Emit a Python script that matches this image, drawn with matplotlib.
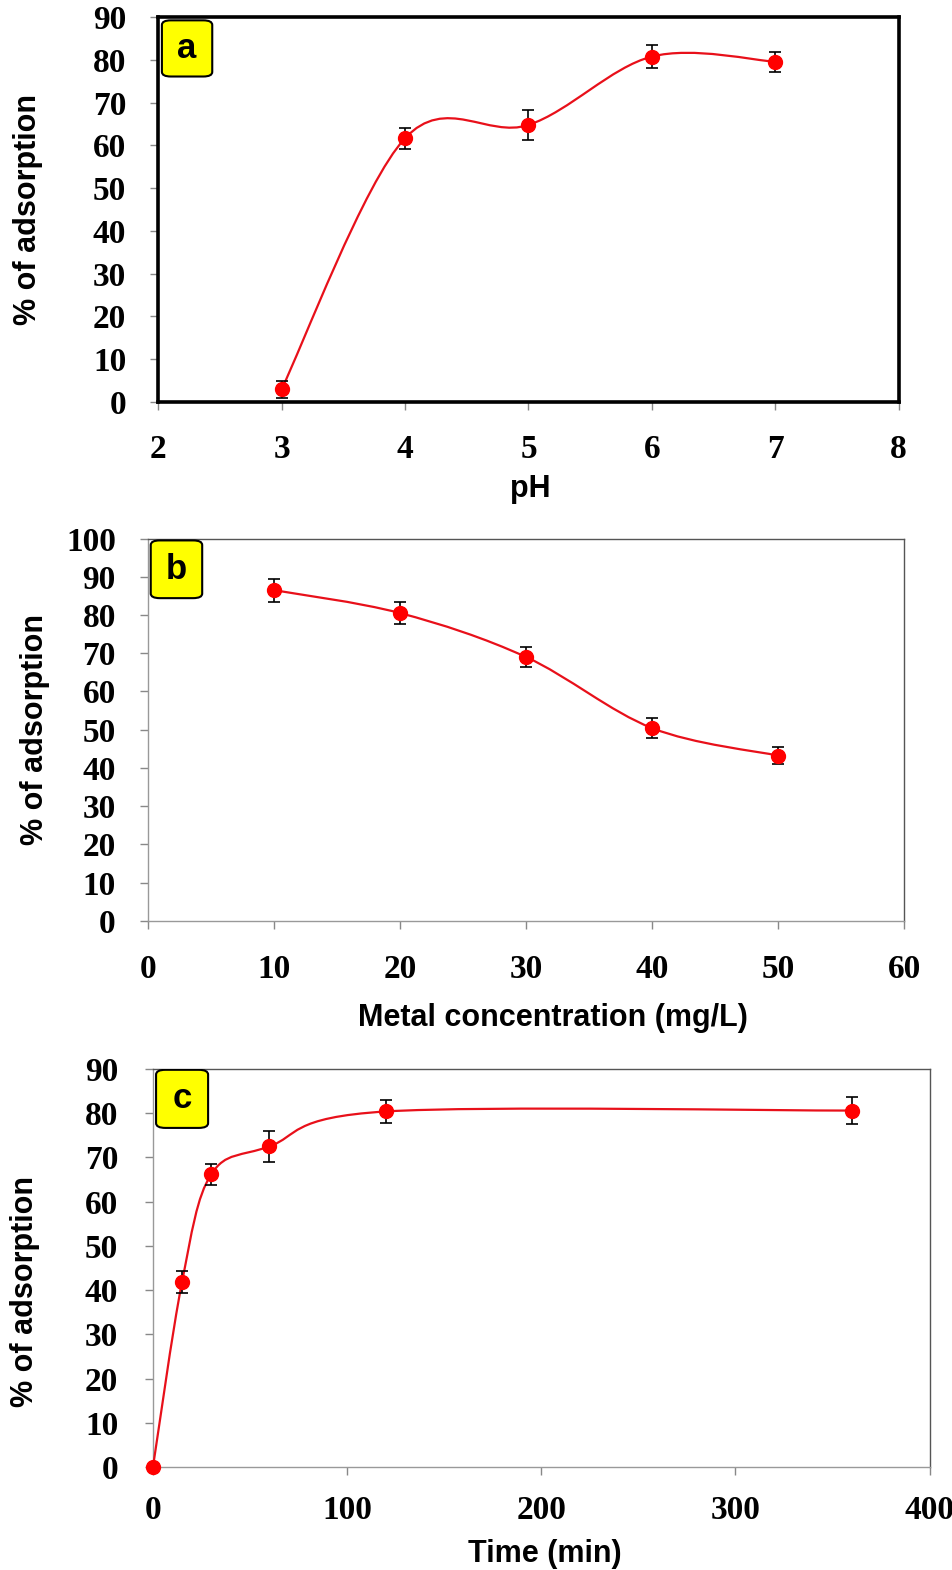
import matplotlib
matplotlib.use('Agg')
import matplotlib.pyplot as plt
from matplotlib.path import Path
from matplotlib.patches import PathPatch, FancyBboxPatch

# データ
ph = [3, 4, 5, 6, 7]
ph_ads = [3.0, 61.7, 64.8, 80.8, 79.6]
ph_err = [2.0, 2.5, 3.5, 2.7, 2.3]

conc = [10, 20, 30, 40, 50]
conc_ads = [86.5, 80.5, 69.0, 50.4, 43.2]
conc_err = [3.0, 2.8, 2.6, 2.6, 2.2]

time = [0, 15, 30, 60, 120, 360]
time_ads = [0.0, 41.9, 66.2, 72.5, 80.4, 80.6]
time_err = [0.0, 2.5, 2.4, 3.5, 2.6, 3.0]

ylabel = '% of adsorption'
xlabels = ['pH', 'Metal concentration (mg/L)', 'Time (min)']
letters = ['a', 'b', 'c']

TICK_FONT = dict(family='Liberation Serif', weight='bold', size=24)
LABEL_FONT = dict(family=['Liberation Sans', 'DejaVu Sans'], weight='bold', size=22)


def smooth_path(x, y):
    # Excel風のスムージング (Catmull-Rom -> ベジェ)
    pts = list(zip(x, y))
    n = len(pts)
    verts = [pts[0]]
    codes = [Path.MOVETO]
    for i in range(n - 1):
        p0 = pts[i - 1] if i > 0 else pts[i]
        p1 = pts[i]
        p2 = pts[i + 1]
        p3 = pts[i + 2] if i + 2 < n else pts[i + 1]
        c1 = (p1[0] + (p2[0] - p0[0]) / 6, p1[1] + (p2[1] - p0[1]) / 6)
        c2 = (p2[0] - (p3[0] - p1[0]) / 6, p2[1] - (p3[1] - p1[1]) / 6)
        verts += [c1, c2, p2]
        codes += [Path.CURVE4] * 3
    return Path(verts, codes)


fig = plt.figure(figsize=(9.53, 15.70), dpi=100)

# 各パネルの位置
ax_a = fig.add_axes([0.166, 0.744, 0.777, 0.245])
ax_b = fig.add_axes([0.155, 0.4135, 0.794, 0.2435])
ax_c = fig.add_axes([0.1605, 0.0656, 0.815, 0.2535])


def draw_panel(ax, x, y, err, xlim, xticks, ylim, yticks, letter, xlabel,
               box, ylab_pos, xlab_pos, xpad, ypad, heavy=False):
    ax.add_patch(PathPatch(smooth_path(x, y), facecolor='none',
                           edgecolor='#e8101a', lw=1.6, zorder=3))
    mask = [e > 0 for e in err]
    ax.errorbar([a for a, m in zip(x, mask) if m], [b for b, m in zip(y, mask) if m],
                yerr=[e for e, m in zip(err, mask) if m], fmt='none',
                ecolor='black', elinewidth=1.2, capsize=4, capthick=1.2, zorder=4)
    ax.plot(x, y, 'o', color='#ff0000', ms=10, zorder=5, clip_on=False)

    ax.set_xlim(*xlim)
    ax.set_ylim(*ylim)
    ax.set_xticks(xticks)
    ax.set_yticks(yticks)
    ax.tick_params(direction='out', length=6, width=1, color='#888888')
    ax.tick_params(axis='x', pad=xpad)
    ax.tick_params(axis='y', pad=ypad)
    for lab in ax.get_xticklabels() + ax.get_yticklabels():
        lab.set_fontproperties(matplotlib.font_manager.FontProperties(**TICK_FONT))

    for sp in ax.spines.values():
        if heavy:
            sp.set_linewidth(2.6)
            sp.set_color('black')
        else:
            sp.set_linewidth(1.0)
            sp.set_color('#555555')
    if not heavy:
        ax.spines['bottom'].set_color('#999999')
        ax.spines['left'].set_color('#999999')

    ax.text(ylab_pos[0], ylab_pos[1], ylabel, transform=ax.transAxes,
            rotation=90, ha='center', va='center', **LABEL_FONT)
    ax.text(xlab_pos[0], xlab_pos[1], xlabel, transform=ax.transAxes,
            ha='center', va='center', **LABEL_FONT)

    # 黄色のラベルボックス
    bx, by, bw, bh = box
    ax.add_patch(FancyBboxPatch((bx, by), bw, bh, boxstyle='round,pad=0,rounding_size=0.012',
                                transform=ax.transAxes, facecolor='#ffff00',
                                edgecolor='black', lw=1.5, zorder=6,
                                mutation_aspect=1.0))
    ax.text(bx + bw / 2, by + bh / 2, letter, transform=ax.transAxes,
            ha='center', va='center', zorder=7,
            family=['Liberation Sans Narrow', 'Liberation Sans'], weight='bold', size=25)


draw_panel(ax_a, ph, ph_ads, ph_err, (2, 8), range(2, 9), (0, 90), range(0, 91, 10),
           letters[0], xlabels[0], (0.005, 0.846, 0.068, 0.146),
           (-0.176, 0.5), (0.503, -0.226), 17, 17, heavy=True)
draw_panel(ax_b, conc, conc_ads, conc_err, (0, 60), range(0, 61, 10), (0, 100),
           range(0, 101, 10), letters[1], xlabels[1], (0.004, 0.844, 0.068, 0.151),
           (-0.149, 0.5), (0.536, -0.254), 18, 17)
draw_panel(ax_c, time, time_ads, time_err, (0, 400), range(0, 401, 100), (0, 90),
           range(0, 91, 10), letters[2], xlabels[2], (0.004, 0.852, 0.067, 0.146),
           (-0.165, 0.44), (0.505, -0.218), 14, 19)

plt.savefig('out.png', dpi=100)
